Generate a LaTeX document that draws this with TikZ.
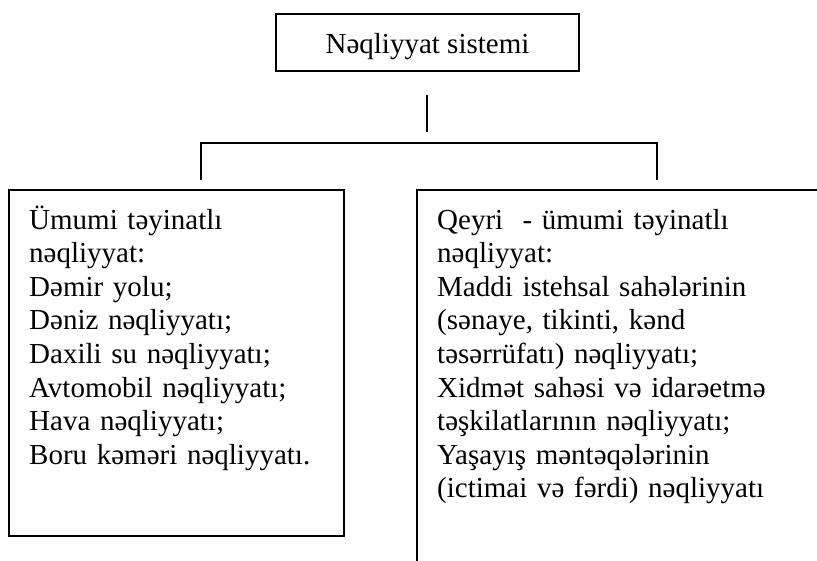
\documentclass[tikz,border=0pt]{standalone}
\usepackage{fontspec}
\setmainfont{Liberation Serif}
\tikzset{
  boxframe/.style={draw=black, line width=1.8pt, inner sep=0pt},
  conn/.style={draw=black, line width=1.6pt, line join=miter},
  bodytext/.style={anchor=base west, inner sep=0pt, align=left, font=\fontsize{29}{33.6}\selectfont},
}
\begin{document}
\begin{tikzpicture}[x=1pt, y=-1pt]
\useasboundingbox (0,0) rectangle (817,560);
\clip (0,0) rectangle (817,560);
% top box
\node[boxframe, minimum width=303pt, minimum height=57pt, text height=25pt, text depth=4pt,
      font=\fontsize{29}{33.6}\selectfont] (top) at (427.5,42.5) {Nəqliyyat sistemi};
% side boxes
\node[boxframe, minimum width=335pt, minimum height=346pt] (leftbox) at (176.5,363) {};
\node[boxframe, minimum width=413pt, minimum height=390pt] (rightbox) at (623.5,385) {};
% texts
\node[bodytext, text width=310pt] (lefttext) at (29,229) {Ümumi təyinatlı\\nəqliyyat:\\Dəmir yolu;\\Dəniz nəqliyyatı;\\Daxili su nəqliyyatı;\\Avtomobil nəqliyyatı;\\Hava nəqliyyatı;\\Boru kəməri nəqliyyatı.};
\node[bodytext, text width=370pt] (righttext) at (437,229) {Qeyri\ \ - ümumi təyinatlı\\nəqliyyat:\\Maddi istehsal sahələrinin\\(sənaye, tikinti, kənd\\təsərrüfatı) nəqliyyatı;\\Xidmət sahəsi və idarəetmə\\təşkilatlarının nəqliyyatı;\\Yaşayış məntəqələrinin\\(ictimai və fərdi) nəqliyyatı};
% connector points
\coordinate (stemtop) at (427,95);
\coordinate (stembot) at (427,132);
\coordinate (barl) at (201,143);
\coordinate (barr) at (657,143);
\coordinate (dropl) at (201,180);
\coordinate (dropr) at (657,180);
\draw[conn] (stemtop) -- (stembot);
\draw[conn] (dropl) -- (barl) -- (barr) -- (dropr);
\end{tikzpicture}
\end{document}
